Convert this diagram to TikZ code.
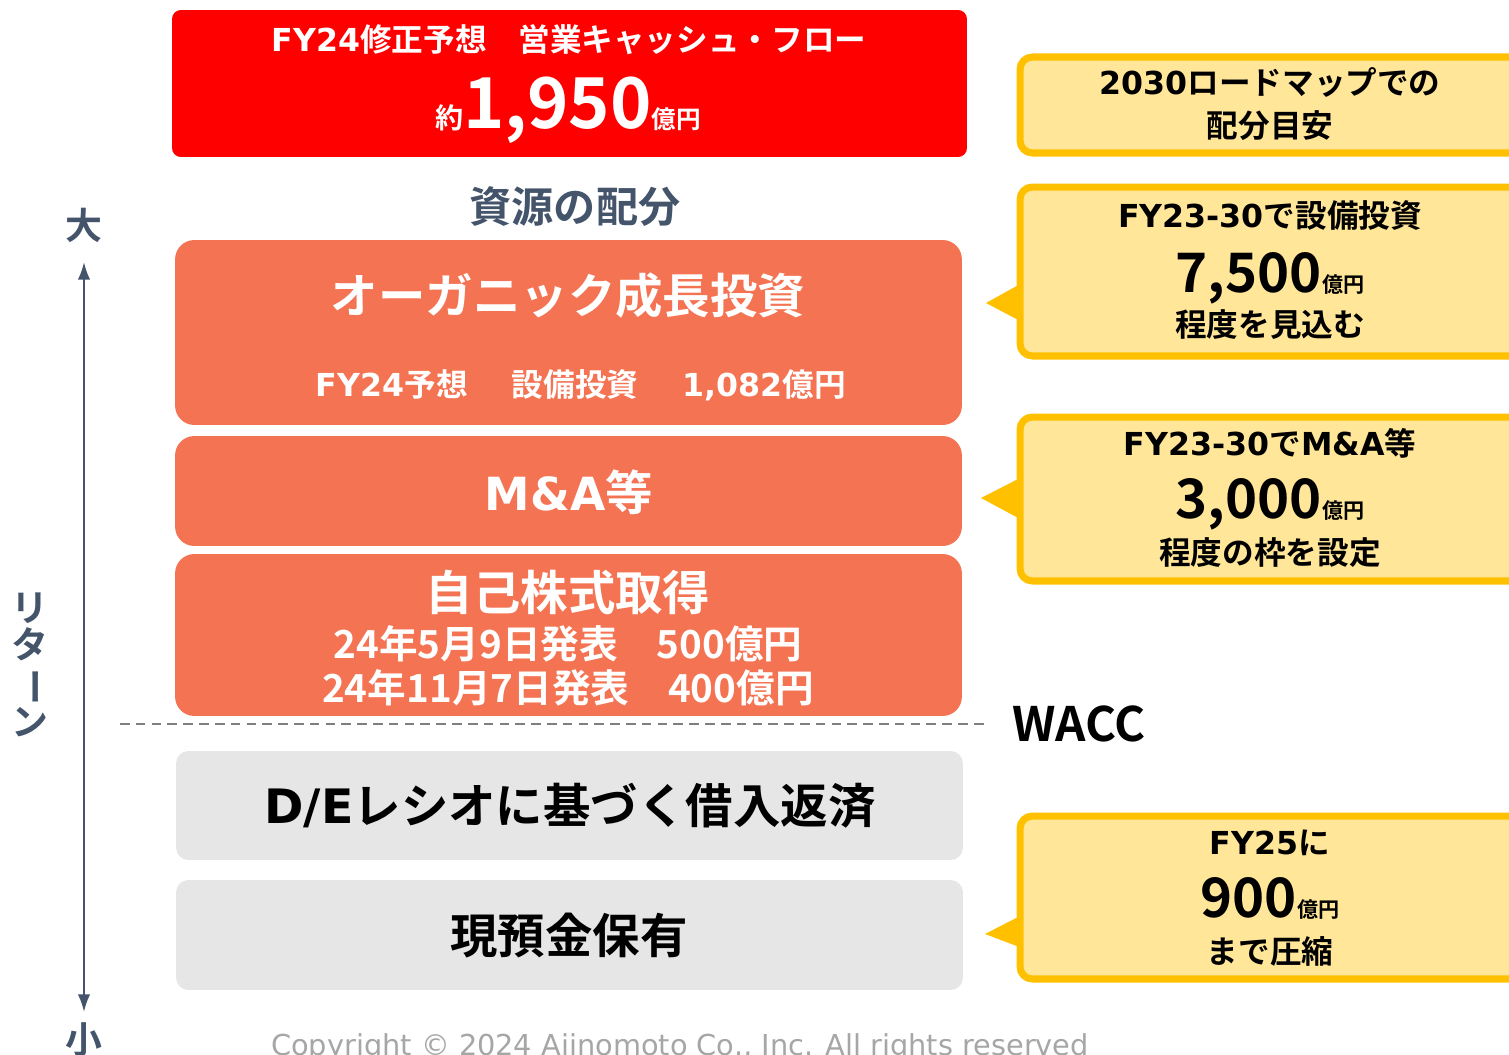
\documentclass[tikz,border=0pt]{standalone}
\usepackage{fontspec}
\setmainfont{Noto Sans CJK JP}[UprightFont=* Bold]
\newfontfamily\copyfont{DejaVu Sans}
\newfontfamily\latfont{DejaVu Sans}[UprightFont={* Bold}]
\usetikzlibrary{positioning, arrows.meta}
\definecolor{cfRed}{HTML}{FF0000}
\definecolor{allocOrange}{HTML}{F47352}
\definecolor{allocGray}{HTML}{E7E6E6}
\definecolor{axisSlate}{HTML}{44546A}
\definecolor{noteFill}{HTML}{FFE699}
\definecolor{noteLine}{HTML}{FFC000}
\definecolor{copyGray}{HTML}{A6A6A6}
\definecolor{waccDash}{HTML}{7F7F7F}
\newcommand{\okuen}[1]{{\fontsize{#1}{#1}\selectfont 億円}}
\newcommand{\lat}[1]{{\latfont #1}}

\begin{document}
\begin{tikzpicture}[x=0.02cm, y=-0.02cm,
    box/.style={inner sep=0pt, minimum width=15.74cm},
    orangebox/.style={box, fill=allocOrange, rounded corners=11pt},
    graybox/.style={box, fill=allocGray, rounded corners=7pt},
    note/.style={draw=noteLine, fill=noteFill, line width=4pt, rounded corners=7pt, minimum width=10.4cm, inner sep=0pt},
    head/.style={font=\fontsize{27}{30}\selectfont, text=white},
    sub/.style={font=\fontsize{18}{20}\selectfont, text=white},
    buyback/.style={font=\fontsize{22}{25}\selectfont, text=white},
    darkhead/.style={font=\fontsize{27}{30}\selectfont, text=black},
    notetext/.style={font=\fontsize{18}{21}\selectfont, text=black},
    axislabel/.style={font=\fontsize{21}{21}\selectfont, text=axisSlate, inner sep=0pt}
]
\useasboundingbox (0,0) rectangle (1509,1055);
\clip (0,0) rectangle (1509,1055);

\node[fill=cfRed, rounded corners=5pt, minimum width=15.9cm, minimum height=2.94cm, inner sep=0pt] (cfBox) at (569.5,83.5) {};
\node[sub] (cfTitle) at (569,40) {\lat{FY24}修正予想　営業キャッシュ・フロー};
\node[text=white, anchor=base] (cfValue) at (568,128) {{\fontsize{16}{16}\selectfont 約}{\fontsize{40}{40}\selectfont 1,950}\okuen{14}};

\node[font=\fontsize{24}{26}\selectfont, text=axisSlate] (allocTitle) at (575,207) {資源の配分};

\node[orangebox, minimum height=3.7cm] (organicBox) at (568.5,332.5) {};
\node[head] (organic) at (568,296) {オーガニック成長投資};
\node[sub] (organicCapex) at (581,385) {\lat{FY24}予想\hspace{1.4em}設備投資\hspace{1.4em}\lat{1,082}億円};

\node[orangebox, minimum height=2.2cm] (maBox) at (568.5,491) {};
\node[head] (ma) at (569,492) {{\fontsize{26}{30}\latfont M\&A}等};

\node[orangebox, minimum height=3.24cm] (buybackBox) at (568.5,635) {};
\node[head] (buyback) at (568,592) {自己株式取得};
\node[buyback] (buybackMay) at (568,644) {24年5月9日発表　500億円};
\node[buyback] (buybackNov) at (568,688) {24年11月7日発表　400億円};

\coordinate (waccL) at (120,724);
\coordinate (waccR) at (985,724);
\draw[waccDash, line width=1.2pt, dash pattern=on 5.5pt off 3.5pt] (waccL) -- (waccR);
\node[font=\fontsize{27}{30}\selectfont, anchor=west] (wacc) at (1006,724) {WACC};

\node[graybox, minimum height=2.18cm] (debtBox) at (569.5,805.5) {};
\node[darkhead] (debt) at (570,806) {\lat{D/E}レシオに基づく借入返済};
\node[graybox, minimum height=2.2cm] (cashBox) at (569.5,935) {};
\node[darkhead] (cash) at (569,936) {現預金保有};

\node[axislabel] (big) at (84,225) {大};
\node[axislabel] (small) at (84,1040) {小};
\draw[{Latex[length=10pt,width=7pt]}-{Latex[length=10pt,width=7pt]}, axisSlate, line width=1.3pt, shorten <=11pt, shorten >=6pt] (big.south) -- (small.north);
\node[axislabel, align=center, font=\fontsize{21}{21}\selectfont] (returnLabel) at (30,665) {リ\\タ\\\rotatebox[origin=c]{-90}{ー}\\ン};

\node[note, minimum height=1.92cm] (roadmapNote) at (1280,105) {};
\node[notetext, align=center] (roadmap) at (1270,104) {\lat{2030}ロードマップでの\\[3pt]配分目安};

\node[note, minimum height=3.38cm] (capexNote) at (1280,271.5) {};
\coordinate (capexTip) at (986,303);
\fill[noteLine] (capexTip) -- (1022,283) -- (1022,322) -- cycle;
\node[notetext] (capexA) at (1270,216) {\lat{FY23-30}で設備投資};
\node[anchor=base] (capexB) at (1270,292) {{\fontsize{31}{31}\selectfont 7,500}\okuen{12}};
\node[notetext] (capexC) at (1270,325) {程度を見込む};

\node[note, minimum height=3.28cm] (maNote) at (1280,499) {};
\coordinate (maTip) at (981,498);
\fill[noteLine] (maTip) -- (1022,477) -- (1022,520) -- cycle;
\node[notetext] (maA) at (1270,443) {\lat{FY23-30}で\lat{M\&A}等};
\node[anchor=base] (maB) at (1270,518) {{\fontsize{31}{31}\selectfont 3,000}\okuen{12}};
\node[notetext] (maC) at (1270,553) {程度の枠を設定};

\node[note, minimum height=3.26cm] (debtNote) at (1280,897.5) {};
\coordinate (debtTip) at (985,934);
\fill[noteLine] (debtTip) -- (1022,915) -- (1022,948) -- cycle;
\node[notetext] (debtA) at (1270,843) {\lat{FY25}に};
\node[anchor=base] (debtB) at (1270,917) {{\fontsize{31}{31}\selectfont 900}\okuen{12}};
\node[notetext] (debtC) at (1270,951) {まで圧縮};

\node[font=\copyfont\fontsize{16.4}{18}\selectfont, text=copyGray] (copyright) at (680,1048) {Copyright © 2024 Ajinomoto Co., Inc. All rights reserved};
\end{tikzpicture}
\end{document}
